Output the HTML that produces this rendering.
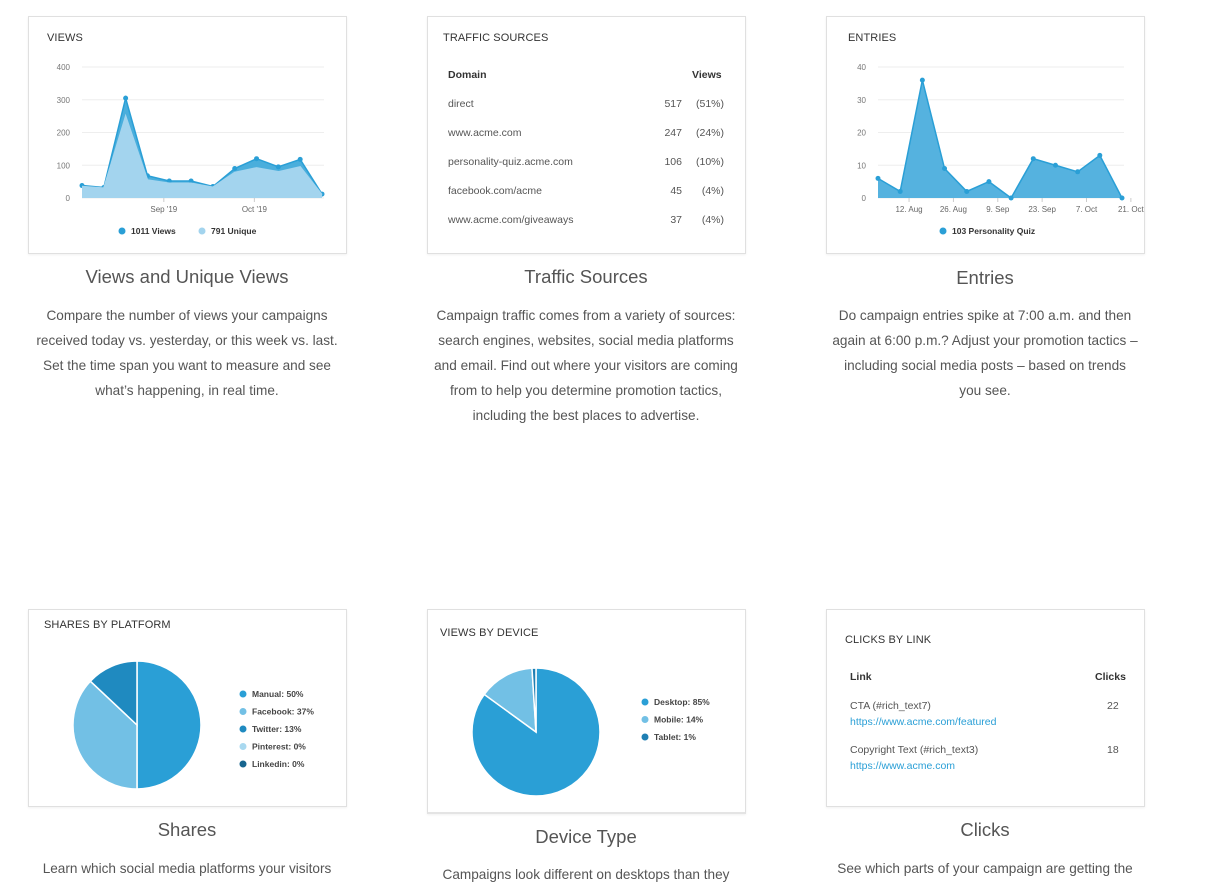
<!DOCTYPE html>
<html><head><meta charset="utf-8">
<style>
body{margin:0;width:1229px;height:881px;background:#fff;position:relative;overflow:hidden;font-family:"Liberation Sans",sans-serif;color:#555}
.card{position:absolute;border:1px solid #e0e0e0;background:#fff;box-sizing:border-box;box-shadow:0 1px 2px rgba(0,0,0,.06)}
.ct{position:absolute;font-size:11px;color:#333;letter-spacing:.1px}
.title{position:absolute;width:400px;text-align:center;font-size:18.5px;color:#555;font-weight:300}
.para{position:absolute;width:400px;text-align:center;font-size:13.6px;line-height:25px;color:#555;white-space:nowrap}
svg text{font-family:"Liberation Sans",sans-serif}
.tbl{position:absolute;font-size:10.5px;color:#555}
</style></head><body>

<div class="card" style="left:28px;top:16px;width:319px;height:238px">
<div class="ct" style="left:18px;top:15px">VIEWS</div>
</div>
<svg id="viewsSvg" style="position:absolute;left:0;top:0" width="360" height="260"></svg>

<div class="card" style="left:427px;top:16px;width:319px;height:238px">
<div class="ct" style="left:15px;top:15px">TRAFFIC SOURCES</div>
<div class="tbl" style="left:20px;top:52px;font-weight:bold;color:#333">Domain</div>
<div class="tbl" style="left:264px;top:52px;font-weight:bold;color:#333">Views</div>
<div id="trafficRows"></div>
</div>

<div class="card" style="left:826px;top:16px;width:319px;height:238px">
<div class="ct" style="left:21px;top:15px">ENTRIES</div>
</div>
<svg id="entriesSvg" style="position:absolute;left:800px;top:0" width="360" height="260"></svg>

<div class="title" style="left:-13px;top:266px">Views and Unique Views</div>
<div class="para" style="left:-13px;top:303px">Compare the number of views your campaigns<br>received today vs. yesterday, or this week vs. last.<br>Set the time span you want to measure and see<br>what’s happening, in real time.</div>
<div class="title" style="left:386px;top:266px">Traffic Sources</div>
<div class="para" style="left:386px;top:303px">Campaign traffic comes from a variety of sources:<br>search engines, websites, social media platforms<br>and email. Find out where your visitors are coming<br>from to help you determine promotion tactics,<br>including the best places to advertise.</div>
<div class="title" style="left:785px;top:267px">Entries</div>
<div class="para" style="left:785px;top:303px">Do campaign entries spike at 7:00 a.m. and then<br>again at 6:00 p.m.? Adjust your promotion tactics –<br>including social media posts – based on trends<br>you see.</div>

<div class="card" style="left:28px;top:609px;width:319px;height:198px">
<div class="ct" style="left:15px;top:9px">SHARES BY PLATFORM</div>
</div>
<div class="card" style="left:427px;top:609px;width:319px;height:205px;border-bottom:2px solid #e4e4e4">
<div class="ct" style="left:12px;top:17px">VIEWS BY DEVICE</div>
</div>
<svg id="pieSvg" style="position:absolute;left:0;top:600px" width="800" height="220"></svg>

<div class="card" style="left:826px;top:609px;width:319px;height:198px">
<div class="ct" style="left:18px;top:24px">CLICKS BY LINK</div>
<div class="tbl" style="left:23px;top:61px;font-weight:bold;color:#333">Link</div>
<div class="tbl" style="left:268px;top:61px;font-weight:bold;color:#333">Clicks</div>
<div class="tbl" style="left:23px;top:90px">CTA (#rich_text7)</div>
<div class="tbl" style="left:23px;top:106px;color:#2a9fd6">https://www.acme.com/featured</div>
<div class="tbl" style="left:280px;top:90px">22</div>
<div class="tbl" style="left:23px;top:134px">Copyright Text (#rich_text3)</div>
<div class="tbl" style="left:23px;top:150px;color:#2a9fd6">https://www.acme.com</div>
<div class="tbl" style="left:280px;top:134px">18</div>
</div>

<div class="title" style="left:-13px;top:819px">Shares</div>
<div class="para" style="left:-13px;top:856px">Learn which social media platforms your visitors</div>
<div class="title" style="left:386px;top:826px">Device Type</div>
<div class="para" style="left:386px;top:862px">Campaigns look different on desktops than they</div>
<div class="title" style="left:785px;top:819px">Clicks</div>
<div class="para" style="left:785px;top:856px">See which parts of your campaign are getting the</div>

<script>
const NS="http://www.w3.org/2000/svg";
function mk(p,t,a){const e=document.createElementNS(NS,t);for(const k in a)e.setAttribute(k,a[k]);p.appendChild(e);return e;}

// Views chart data
const viewsValues=[38,32,305,68,52,52,35,90,120,95,118,12];
const uniqueValues=[35,30,250,55,45,45,33,78,92,80,95,10];
const viewsYTicks=[0,100,200,300,400];
const viewsXLabels=["Sep '19","Oct '19"];
const viewsXLabelIdx=[3.75,7.9];

// Entries chart data
const entriesValues=[6,2,36,9,2,5,0,12,10,8,13,0];
const entriesYTicks=[0,10,20,30,40];
const entriesXLabels=["12. Aug","26. Aug","9. Sep","23. Sep","7. Oct","21. Oct"];
const entriesXLabelIdx=[1.4,3.4,5.4,7.4,9.4,11.4];

// Traffic table
const trafficDomains=["direct","www.acme.com","personality-quiz.acme.com","facebook.com/acme","www.acme.com/giveaways"];
const trafficViews=[517,247,106,45,37];
const trafficPct=["(51%)","(24%)","(10%)","(4%)","(4%)"];

// Pies
const shareLabels=["Manual","Facebook","Twitter","Pinterest","Linkedin"];
const shareValues=[50,37,13,0,0];
const shareColors=["#2a9fd6","#72c0e5","#1f8ac0","#a9d9f0","#17658f"];
const deviceLabels=["Desktop","Mobile","Tablet"];
const deviceValues=[85,14,1];
const deviceColors=["#2a9fd6","#72c0e5","#1f7fb3"];

function areaChart(svg,ox,x0,x1,y0,y1,max,ticks,series,colors,xl,xi,n){
  const sx=i=>x0+(x1-x0)*i/(n-1), sy=v=>y0-(y0-y1)*v/max;
  ticks.forEach(t=>{
    const g=mk(svg,"line",{x1:x0,x2:x1+2,y1:sy(t),y2:sy(t),stroke:"#eee"});
    
    
    const tx=mk(svg,"text",{x:x0-12,y:sy(t)+3,"text-anchor":"end","font-size":"8",fill:"#777"});
    
    
    tx.textContent=t;
  });
  series.forEach((s,k)=>{
    let d="M"+sx(0)+","+y0;s.forEach((v,i)=>d+="L"+sx(i)+","+sy(v));d+="L"+sx(n-1)+","+y0+"Z";
    const a=mk(svg,"path",{d:d,fill:colors[k].fill});
    
    
    const l=mk(svg,"polyline",{points:s.map((v,i)=>sx(i)+","+sy(v)).join(" "),fill:"none",stroke:colors[k].line,"stroke-width":"1.5"});
    
    
    if(colors[k].dots)s.forEach((v,i)=>{
      const c=mk(svg,"circle",{cx:sx(i),cy:sy(v),r:2.5,fill:colors[k].line});
      
      
    });
  });
  xl.forEach((t,i)=>{
    const x=sx(xi[i]);
    mk(svg,"line",{x1:x,x2:x,y1:y0,y2:y0+4,stroke:"#ccc"});
    const tx=mk(svg,"text",{x:x,y:y0+14,"text-anchor":"middle","font-size":"8",fill:"#666"});
    
    
    tx.textContent=t;
  });
}
const vs=document.getElementById("viewsSvg");
areaChart(vs,0,82,322,198,67,400,viewsYTicks,[viewsValues,uniqueValues],[{fill:"#4aaedc",line:"#2a9fd6",dots:true},{fill:"#a3d4ee",line:"#a3d4ee",dots:false}],viewsXLabels,viewsXLabelIdx,viewsValues.length);
[[122,"#2a9fd6","1011 Views"],[202,"#a3d4ee","791 Unique"]].forEach(([x,c,t])=>{
  const d=mk(vs,"circle",{cx:x,cy:231,r:3.5,fill:c});
  
  
  const tx=mk(vs,"text",{x:x+9,y:234,"font-size":"8.5","font-weight":"bold",fill:"#333"});
  
  
  tx.textContent=t;
});
const es=document.getElementById("entriesSvg");
areaChart(es,0,78,322,198,67,40,entriesYTicks,[entriesValues],[{fill:"#55b2df",line:"#2a9fd6",dots:true}],entriesXLabels,entriesXLabelIdx,entriesValues.length);
{const d=mk(es,"circle",{cx:143,cy:231,r:3.5,fill:"#2a9fd6"});


const tx=mk(es,"text",{x:152,y:234,"font-size":"8.5","font-weight":"bold",fill:"#333"});


tx.textContent="103 Personality Quiz";}

const tr=document.getElementById("trafficRows");
trafficDomains.forEach((dm,i)=>{
  const y=81+i*29;
  const a=document.createElement("div");a.className="tbl";a.style.cssText="left:20px;top:"+y+"px";a.textContent=dm;
  
  
  const b=document.createElement("div");b.className="tbl";b.style.cssText="left:200px;width:54px;text-align:right;top:"+y+"px";b.textContent=trafficViews[i];
  
  
  const c=document.createElement("div");c.className="tbl";c.style.cssText="left:250px;width:46px;text-align:right;top:"+y+"px";c.textContent=trafficPct[i];
  
  
  tr.append(a,b,c);
});

const ps=document.getElementById("pieSvg");
function pie(cx,cy,r,vals,cols,labels,lx,ly,gap){
  const tot=vals.reduce((a,b)=>a+b,0);let a0=0;
  vals.forEach((v,i)=>{
    if(v<=0)return;
    const a1=a0+v/tot*2*Math.PI;
    const p=(a)=>[cx+r*Math.sin(a),cy-r*Math.cos(a)];
    const [x0,y0]=p(a0),[x1,y1]=p(a1);
    const s=mk(ps,"path",{d:`M${cx},${cy}L${x0},${y0}A${r},${r} 0 ${a1-a0>Math.PI?1:0} 1 ${x1},${y1}Z`,fill:cols[i],stroke:"#fff","stroke-width":"1.5"});
    
    
    a0=a1;
  });
  labels.forEach((l,i)=>{
    const d=mk(ps,"circle",{cx:lx,cy:ly+i*gap,r:3.5,fill:cols[i]});
    
    
    const t=mk(ps,"text",{x:lx+9,y:ly+i*gap+3,"font-size":"8.5","font-weight":"bold",fill:"#444"});
    
    
    t.textContent=l+": "+Math.round(vals[i]/tot*100)+"%";
  });
}
pie(137,125,64,shareValues,shareColors,shareLabels,243,94,17.5);
pie(536,132,64,deviceValues,deviceColors,deviceLabels,645,102,17.5);
</script>
</body></html>
